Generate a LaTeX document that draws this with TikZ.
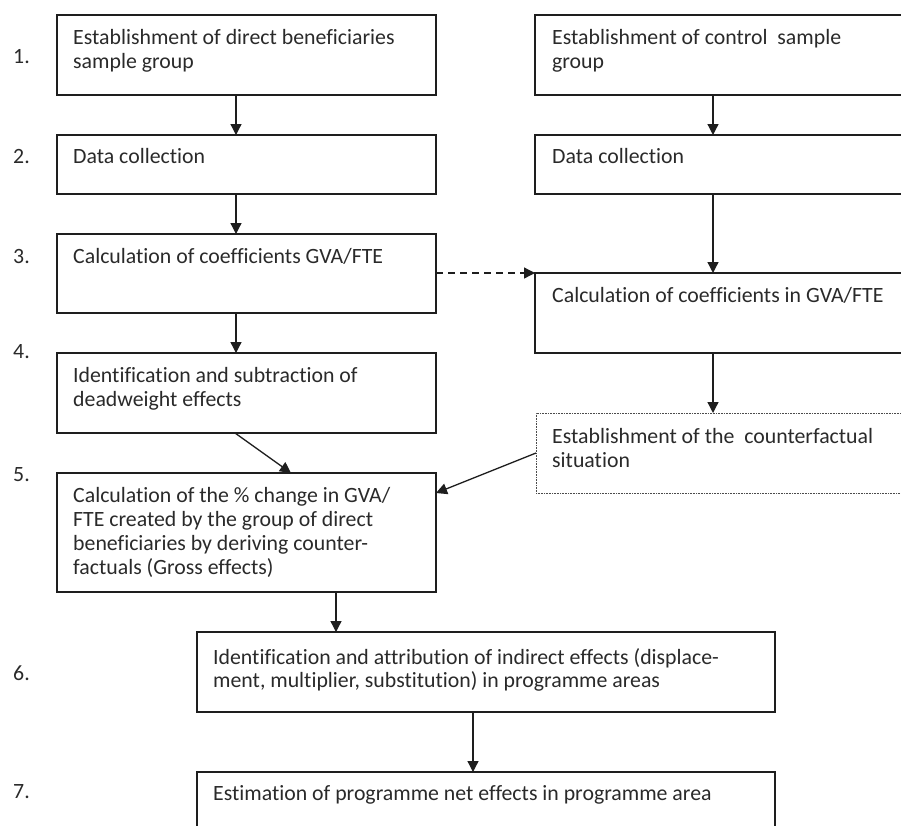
\documentclass[tikz,border=0pt]{standalone}
\usepackage{fontspec}
\setmainfont[Ligatures={NoCommon}]{Carlito}
\usetikzlibrary{arrows.meta}
\definecolor{linecol}{HTML}{1E1E1E}
\definecolor{textcol}{HTML}{2A2A2A}
\newcommand{\fs}{\fontsize{21.8}{24}\selectfont}
\newcommand{\tl}[1]{\parbox[t]{600pt}{\fs #1}}
\begin{document}
\begin{tikzpicture}[x=1pt,y=-1pt,
  box/.style={draw=linecol, line width=1.3pt, anchor=north west, inner sep=0pt, outer sep=0pt},
  dotbox/.style={draw=linecol!80, line width=0.8pt, dash pattern=on 0.8pt off 0.8pt, anchor=north west, inner sep=0pt, outer sep=0pt},
  txt/.style={anchor=base west, inner sep=0pt, text=textcol, align=left},
  num/.style={anchor=base west, inner sep=0pt, text=textcol, font=\fs},
  arr/.style={draw=linecol, line width=1.3pt, -{Triangle[length=11pt,width=11pt]}},
  darr/.style={arr, dash pattern=on 7pt off 5pt}]
\useasboundingbox (0,0) rectangle (901,825);
\clip (0,0) rectangle (901,825);
\fill[white] (0,0) rectangle (901,825);
% left column
\node[box, minimum width=379pt, minimum height=80pt] (b1) at (57,15) {};
\node[box, minimum width=379pt, minimum height=59pt] (b2) at (57,135) {};
\node[box, minimum width=379pt, minimum height=79pt] (b3) at (57,234) {};
\node[box, minimum width=379pt, minimum height=80pt] (b4) at (57,353) {};
\node[box, minimum width=379pt, minimum height=119pt] (b5) at (57,473) {};
% right column
\node[box, minimum width=480pt, minimum height=80pt] (r1) at (535,15) {};
\node[box, minimum width=480pt, minimum height=59pt] (r2) at (535,135) {};
\node[box, minimum width=480pt, minimum height=80pt] (r3) at (535,273) {};
\node[dotbox, minimum width=480pt, minimum height=80pt] (r4) at (536,413) {};
% bottom
\node[box, minimum width=578pt, minimum height=80pt] (b6) at (197,632) {};
\node[box, minimum width=578pt, minimum height=120pt] (b7) at (197,772) {};
% texts
\node[txt] (t1) at ([xshift=16pt,yshift=-29pt]b1.north west) {\tl{Establishment of direct beneficiaries\\sample group}};
\node[txt] (t2) at ([xshift=16pt,yshift=-28pt]b2.north west) {\tl{Data collection}};
\node[txt] (t3) at ([xshift=16pt,yshift=-29pt]b3.north west) {\tl{Calculation of coefficients GVA/FTE}};
\node[txt] (t4) at ([xshift=16pt,yshift=-29pt]b4.north west) {\tl{Identification and subtraction of\\deadweight effects}};
\node[txt] (t5) at ([xshift=16pt,yshift=-29pt]b5.north west) {\tl{Calculation of the \% change in GVA/\\FTE created by the group of direct\\beneficiaries by deriving counter-\\factuals (Gross effects)}};
\node[txt] (tr1) at ([xshift=17pt,yshift=-29pt]r1.north west) {\tl{Establishment of control\ \ sample\\group}};
\node[txt] (tr2) at ([xshift=17pt,yshift=-28pt]r2.north west) {\tl{Data collection}};
\node[txt] (tr3) at ([xshift=17pt,yshift=-29pt]r3.north west) {\tl{Calculation of coefficients in GVA/FTE}};
\node[txt] (tr4) at ([xshift=16pt,yshift=-30pt]r4.north west) {\tl{Establishment of the\ \ counterfactual\\situation}};
\node[txt] (t6) at ([xshift=16pt,yshift=-32pt]b6.north west) {\fontsize{21.8}{23}\selectfont\parbox[t]{600pt}{Identification and attribution of indirect effects (displace-\\ment, multiplier, substitution) in programme areas}};
\node[txt] (t7) at ([xshift=16pt,yshift=-28pt]b7.north west) {\tl{Estimation of programme net effects in programme area}};
% numbers
\node[num] (n1) at (13,63) {1.};
\node[num] (n2) at (13,163) {2.};
\node[num] (n3) at (13,263) {3.};
\node[num] (n4) at (13,358) {4.};
\node[num] (n5) at (13,481) {5.};
\node[num] (n6) at (13,680) {6.};
\node[num] (n7) at (13,798) {7.};
% connectors
\coordinate (c1s) at (236,95);
\draw[arr] (b1.south west -| c1s) -- (b2.north west -| c1s);
\draw[arr] (b2.south west -| c1s) -- (b3.north west -| c1s);
\draw[arr] (b3.south west -| c1s) -- (b4.north west -| c1s);
\coordinate (c2s) at (713,95);
\draw[arr] (r1.south west -| c2s) -- (r2.north west -| c2s);
\draw[arr] (r2.south west -| c2s) -- (r3.north west -| c2s);
\draw[arr] (r3.south west -| c2s) -- (r4.north west -| c2s);
\draw[darr] (b3.north east |- r3.north west) -- (r3.north west);
\coordinate (a4s) at (235,433);
\coordinate (a4e) at (291,473);
\draw[arr] (a4s) -- (a4e);
\coordinate (a5s) at (536,453);
\coordinate (a5e) at (436,493);
\draw[arr] (a5s) -- (a5e);
\coordinate (c3) at (336,592);
\draw[arr] (b5.south west -| c3) -- (b6.north west -| c3);
\coordinate (c4) at (473,712);
\draw[arr] (b6.south west -| c4) -- (b7.north west -| c4);
\end{tikzpicture}
\end{document}
